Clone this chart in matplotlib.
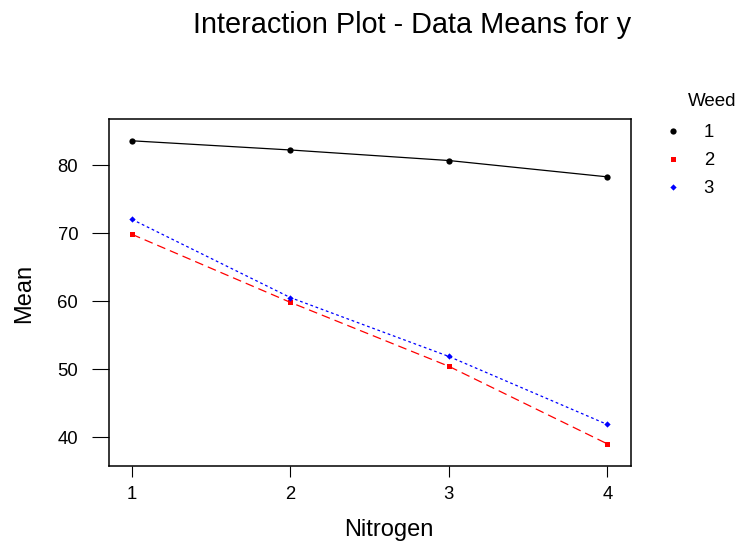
import numpy as np
import matplotlib
matplotlib.use('Agg')
import matplotlib.pyplot as plt
from matplotlib.lines import Line2D

plt.rcParams['font.family'] = ['Liberation Sans', 'DejaVu Sans']

nitrogen = [1, 2, 3, 4]
weed_levels = ['1', '2', '3']
weed1 = [83.6, 82.25, 80.7, 78.3]
weed2 = [69.85, 59.85, 50.45, 39.05]
weed3 = [72.05, 60.55, 51.9, 41.9]
yticks = [40, 50, 60, 70, 80]

series = [weed1, weed2, weed3]
colors = ['black', 'red', 'blue']
markers = ['o', 's', 'D']
msizes = [4.5, 3.6, 3.2]
styles = ['-', (0, (7, 4)), (0, (2.2, 2.2))]

fig = plt.figure(figsize=(7.39, 5.44), dpi=100)
ax = fig.add_axes([0.1475, 0.1434, 0.7065, 0.6378])

handles = []
for vals, c, m, ms, ls, lab in zip(series, colors, markers, msizes, styles, weed_levels):
    ax.plot(nitrogen, vals, color=c, linestyle=ls, linewidth=0.9,
            marker=m, markersize=ms, markeredgewidth=0)
    handles.append(Line2D([], [], color=c, linestyle='none', marker=m,
                          markersize=ms, markeredgewidth=0, label=lab))

ax.set_xlim(0.855, 4.15)
ax.set_ylim(35.8, 86.8)
ax.set_xticks(nitrogen)
ax.set_yticks(yticks)
ax.tick_params(axis='y', length=12.2, width=0.8, pad=10, labelsize=13.3, direction='out')
ax.tick_params(axis='x', length=8.2, width=0.8, pad=6, labelsize=13.3, direction='out')
for s in ax.spines.values():
    s.set_linewidth(1.1)

# axis labels and title placed in figure coords
fig.text(0.526, 0.015, 'Nitrogen', fontsize=17, ha='center', va='baseline')
fig.text(0.033, 0.4605, 'Mean', fontsize=17, ha='center', va='center', rotation=90)
fig.text(0.558, 0.940, 'Interaction Plot - Data Means for y', fontsize=20.8,
         ha='center', va='baseline')

fig.text(0.931, 0.805, 'Weed', fontsize=13.5, ha='left', va='baseline')
fig.legend(handles=handles, loc='upper left', bbox_to_anchor=(0.8985, 0.772),
           frameon=False, fontsize=13.3, handletextpad=1.15, handlelength=1.0,
           labelspacing=0.6, borderaxespad=0, borderpad=0)

fig.savefig('out.png', dpi=100)
